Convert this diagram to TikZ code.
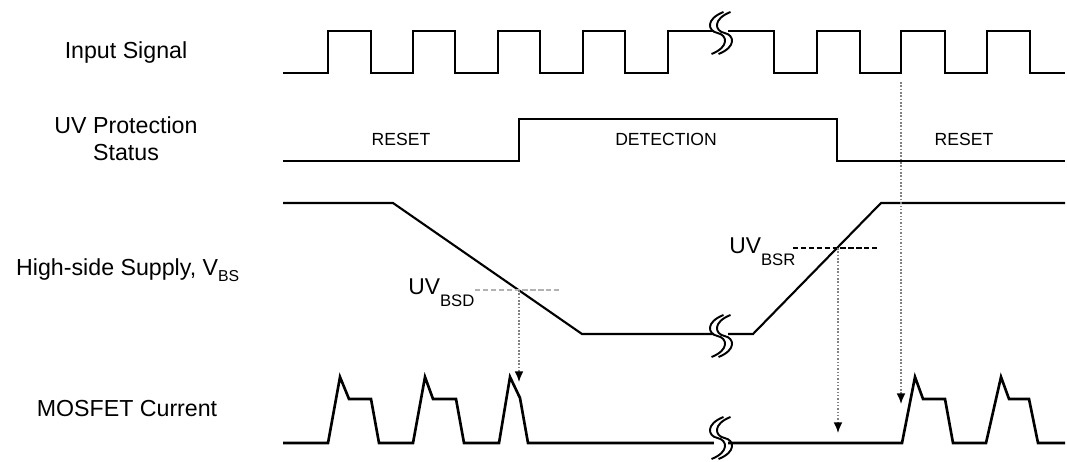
\documentclass[tikz,border=0pt]{standalone}
\usepackage{fontspec}
\setmainfont{Liberation Sans}
\usetikzlibrary{arrows.meta}

% break mark on a time axis
\newcommand{\sigbreak}[3]{%
  \fill[white] (#1-7,#3-2.6) rectangle (#1+7,#3+2.6);
  \foreach \dx in {-3.5,3.5}
    \draw[line width=1.1pt] (#1+\dx+6,#2-21) .. controls (#1+\dx-12,#2-14) and (#1+\dx-10,#2-2) .. (#1+\dx,#2)
      .. controls (#1+\dx+10,#2+2) and (#1+\dx+12,#2+14) .. (#1+\dx-6,#2+21);
}

\begin{document}
\begin{tikzpicture}[x=0.02cm,y=-0.02cm,
  sig/.style={line width=1.2pt},
  cur/.style={line width=1.5pt,line join=miter},
  guide/.style={densely dotted,gray,line width=0.9pt,-{Latex[length=6pt,width=5pt,color=black]}},
  thr/.style={line width=0.7pt,dash pattern=on 3pt off 1.5pt},
  lbl/.style={font=\fontsize{13.2}{15.5}\selectfont,align=center},
  st/.style={font=\fontsize{10}{12}\selectfont},
  uvl/.style={font=\fontsize{13}{14}\selectfont,inner sep=0pt}]

\useasboundingbox (0,0) rectangle (1067,462);

% row labels
\node[lbl] (lblin) at (126,53) {Input Signal};
\node[lbl] (lbluv) at (126,139) {UV Protection\\Status};
\node[lbl,anchor=west] (lblvbs) at (10,270) {High-side Supply, V\raisebox{-0.5ex}{\fontsize{9}{10}\selectfont BS}};
\node[lbl] (lblmos) at (127,409) {MOSFET Current};

% input signal
\draw[sig] (283,73) -- (328,73) -- (328,31) -- (371,31) -- (371,73) -- (413,73) -- (413,31) -- (455,31)
  -- (455,73) -- (498,73) -- (498,31) -- (540,31) -- (540,73) -- (583,73) -- (583,31) -- (625,31)
  -- (625,73) -- (668,73) -- (668,31) -- (774,31) -- (774,73) -- (817,73) -- (817,31) -- (860,31)
  -- (860,73) -- (901,73) -- (901,31) -- (945,31) -- (945,73) -- (987,73) -- (987,31) -- (1030,31)
  -- (1030,73) -- (1065,73);
\sigbreak{721}{33}{31}

% UV protection status
\draw[sig] (283,161) -- (519,161) -- (519,119) -- (837,119) -- (837,161) -- (1065,161);
\node[st] (rst1) at (401,139) {RESET};
\node[st] (det) at (666,139) {DETECTION};
\node[st] (rst2) at (964,139) {RESET};

% high-side supply
\draw[sig] (283,203) -- (393,203) -- (582,334) -- (753,334) -- (881,203) -- (1065,203);
\sigbreak{721}{336}{334}

\coordinate (bsd) at (519,290);
\coordinate (bsr) at (838,248);
\draw[thr,gray!60] (475,290) -- (560,290);
\draw[thr] (793,248) -- (879,248);
\node[uvl,anchor=base west] (uvbsd) at (408,295) {UV\raisebox{-0.95ex}{\fontsize{9.5}{10}\selectfont BSD}};
\node[uvl,anchor=base west] (uvbsr) at (729,254) {UV\raisebox{-0.95ex}{\fontsize{9.5}{10}\selectfont BSR}};

% MOSFET current
\draw[cur] (283,443) -- (328,443) -- (340,377) -- (349,399) -- (371,399) -- (379,443)
  -- (413,443) -- (425,377) -- (433,399) -- (456,399) -- (464,443)
  -- (499,443) -- (510,377) -- (520,398) -- (528,443)
  -- (902,443) -- (915,377) -- (923,399) -- (945,399) -- (953,443)
  -- (986,443) -- (1001,377) -- (1009,399) -- (1029,399) -- (1038,443) -- (1065,443);
\sigbreak{721}{438}{443}

% arrows down to the current trace
\coordinate (bsdend) at (519,382);
\coordinate (bsrend) at (838,433);
\coordinate (instart) at (901,82);
\coordinate (inend) at (901,404);
\draw[guide] (bsd) -- (bsdend);
\draw[guide] (bsr) -- (bsrend);
\draw[guide] (instart) -- (inend);

\end{tikzpicture}
\end{document}
